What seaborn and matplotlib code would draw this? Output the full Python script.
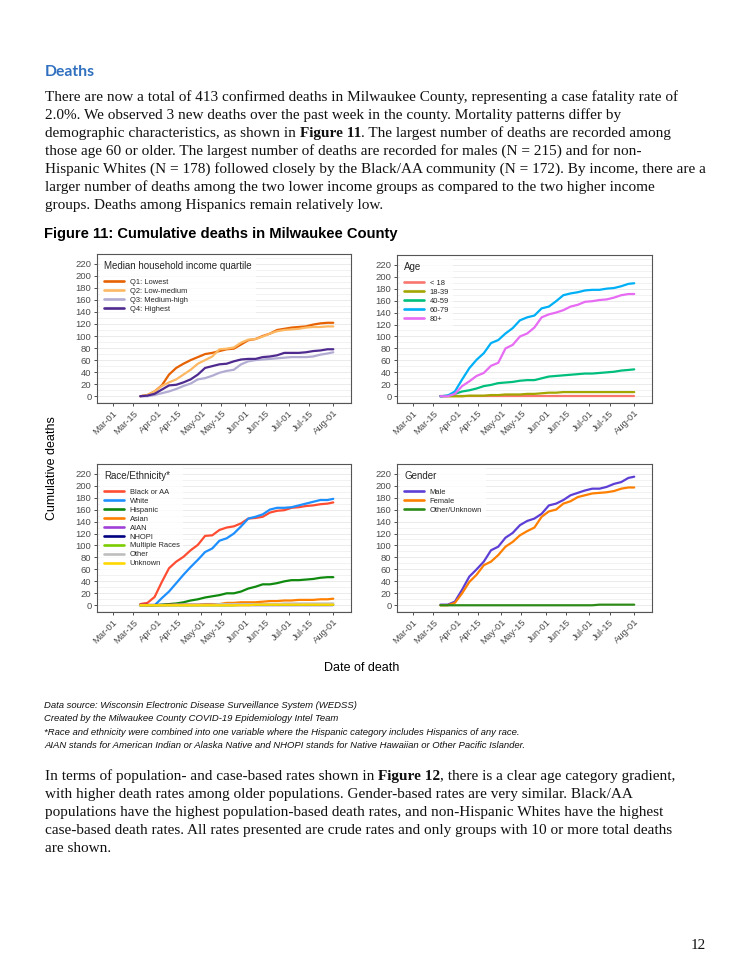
import numpy as np
import pandas as pd
import matplotlib
matplotlib.use("Agg")
import matplotlib.pyplot as plt
import seaborn as sns

# ---------------- data ----------------
dates = ["2020-03-20", "2020-03-25", "2020-03-30", "2020-04-04", "2020-04-09", "2020-04-14",
         "2020-04-19", "2020-04-24", "2020-04-29", "2020-05-04", "2020-05-09", "2020-05-14",
         "2020-05-19", "2020-05-24", "2020-05-29", "2020-06-03", "2020-06-08", "2020-06-13",
         "2020-06-18", "2020-06-23", "2020-06-28", "2020-07-03", "2020-07-08", "2020-07-13",
         "2020-07-18", "2020-07-23", "2020-07-28", "2020-08-01"]

income_groups = ["Q1: Lowest", "Q2: Low-medium", "Q3: Medium-high", "Q4: Highest"]
income_q1 = [0, 2, 8, 18, 36, 47, 54, 60, 65, 70, 72, 75, 78, 79, 86, 93, 95, 100, 104, 110, 112, 114, 115, 116, 119, 121, 122, 122]
income_q2 = [0, 2, 8, 17, 23, 28, 36, 44, 54, 60, 66, 78, 79, 81, 89, 94, 95, 99, 104, 108, 110, 111, 112, 114, 115, 115, 116, 116]
income_q3 = [0, 0, 2, 5, 8, 12, 17, 21, 28, 30, 34, 39, 42, 44, 53, 58, 60, 61, 62, 63, 64, 65, 65, 65, 66, 69, 71, 73]
income_q4 = [0, 1, 4, 11, 18, 19, 23, 28, 36, 47, 50, 53, 54, 58, 61, 62, 62, 65, 66, 68, 72, 72, 72, 73, 75, 76, 78, 78]
income_colors = ["#E66101", "#FDB863", "#B2ABD2", "#4F2A8F"]

age_groups = ["< 18", "18-39", "40-59", "60-79", "80+"]
age_lt18 = [0] * 28
age_18_39 = [0, 0, 0, 0, 1, 1, 1, 2, 2, 3, 3, 3, 4, 4, 5, 6, 6, 7, 7, 7, 7, 7, 7, 7, 7, 7, 7, 7]
age_40_59 = [0, 1, 4, 8, 10, 13, 17, 19, 22, 23, 24, 26, 27, 27, 30, 33, 34, 35, 36, 37, 38, 38, 39, 40, 41, 43, 44, 45]
age_60_79 = [0, 1, 8, 28, 47, 61, 72, 89, 94, 105, 114, 127, 132, 135, 147, 150, 159, 169, 172, 174, 177, 178, 178, 180, 181, 184, 188, 189]
age_80p = [0, 0, 4, 17, 25, 34, 39, 51, 56, 80, 86, 100, 105, 115, 132, 137, 140, 144, 150, 153, 158, 159, 161, 162, 165, 169, 171, 171]
age_colors = ["#F8766D", "#A3A500", "#00BF7D", "#00B0F6", "#E76BF3"]

race_groups = ["Black or AA", "White", "Hispanic", "Asian", "AIAN", "NHOPI", "Multiple Races", "Other", "Unknown"]
race_black = [2, 4, 14, 39, 62, 73, 81, 92, 101, 116, 117, 126, 130, 132, 137, 145, 146, 148, 155, 158, 159, 163, 164, 166, 167, 169, 170, 172]
race_white = [0, 0, 0, 12, 23, 37, 51, 64, 76, 89, 95, 108, 112, 120, 132, 145, 148, 152, 160, 163, 163, 164, 167, 170, 173, 176, 176, 178]
race_hisp = [0, 0, 0, 1, 2, 3, 5, 8, 10, 13, 15, 17, 20, 20, 23, 28, 31, 35, 35, 37, 40, 42, 42, 43, 44, 46, 47, 47]
race_asian = [0, 0, 0, 0, 1, 1, 1, 1, 1, 2, 2, 2, 4, 4, 5, 5, 5, 6, 7, 7, 8, 8, 9, 9, 9, 10, 10, 11]
race_aian = [0] * 28
race_nhopi = [0] * 28
race_multi = [0] * 14 + [1] * 14
race_other = [0, 0, 0, 0, 0, 1, 1, 1, 1, 1, 1, 2, 2, 2, 2, 2, 2, 2, 2, 2, 3, 3, 3, 3, 3, 3, 3, 3]
race_unknown = [0] * 16 + [1] * 12
race_colors = ["#FF4D33", "#1E8FFF", "#0F8A0F", "#FF8000", "#A040D8", "#000080", "#7CCD00", "#BEBEBE", "#FFD700"]

gender_groups = ["Male", "Female", "Other/Unknown"]
gender_male = [1, 1, 6, 26, 48, 60, 73, 92, 98, 113, 121, 134, 141, 145, 153, 167, 170, 176, 184, 188, 192, 195, 195, 198, 203, 206, 213, 215]
gender_female = [0, 0, 4, 20, 39, 51, 67, 73, 84, 98, 106, 117, 124, 130, 148, 157, 160, 170, 174, 181, 184, 187, 188, 189, 191, 195, 197, 197]
gender_other = [0] * 22 + [1] * 6
gender_colors = ["#5E3FD6", "#FF7F00", "#2E8B1A"]

x_ticks = ["2020-03-01", "2020-03-15", "2020-04-01", "2020-04-15", "2020-05-01", "2020-05-15",
           "2020-06-01", "2020-06-15", "2020-07-01", "2020-07-15", "2020-08-01"]
y_ticks = list(range(0, 221, 20))

para1 = [
    [("There are now a total of 413 confirmed deaths in Milwaukee County, representing a case fatality rate of", "normal")],
    [("2.0%. We observed 3 new deaths over the past week in the county. Mortality patterns differ by", "normal")],
    [("demographic characteristics, as shown in ", "normal"), ("Figure 11", "bold"),
     (". The largest number of deaths are recorded among", "normal")],
    [("those age 60 or older. The largest number of deaths are recorded for males (N = 215) and for non-", "normal")],
    [("Hispanic Whites (N = 178) followed closely by the Black/AA community (N = 172). By income, there are a", "normal")],
    [("larger number of deaths among the two lower income groups as compared to the two higher income", "normal")],
    [("groups. Deaths among Hispanics remain relatively low.", "normal")],
]
para2 = [
    [("In terms of population- and case-based rates shown in ", "normal"), ("Figure 12", "bold"),
     (", there is a clear age category gradient,", "normal")],
    [("with higher death rates among older populations. Gender-based rates are very similar. Black/AA", "normal")],
    [("populations have the highest population-based death rates, and non-Hispanic Whites have the highest", "normal")],
    [("case-based death rates. All rates presented are crude rates and only groups with 10 or more total deaths", "normal")],
    [("are shown.", "normal")],
]
notes = [
    "Data source: Wisconsin Electronic Disease Surveillance System (WEDSS)",
    "Created by the Milwaukee County COVID-19 Epidemiology Intel Team",
    "*Race and ethnicity were combined into one variable where the Hispanic category includes Hispanics of any race.",
    "AIAN stands for American Indian or Alaska Native and NHOPI stands for Native Hawaiian or Other Pacific Islander.",
]

# ---------------- figure ----------------
sns.set_theme(style="white")
plt.rcParams["font.family"] = ["Liberation Sans", "DejaVu Sans"]

W, H = 750, 971
fig = plt.figure(figsize=(W / 100, H / 100), dpi=100)
fig.patch.set_facecolor("white")
renderer = fig.canvas.get_renderer()


def fy(y):
    return 1 - y / H


def fit_size(text, target, **kw):
    t = fig.text(0, 0, text, fontsize=10, **kw)
    w = t.get_window_extent(renderer).width
    t.remove()
    return 10 * target / w


def draw_runs(x, y, parts, size, family, color="#111111"):
    cur = x
    for txt, wt in parts:
        t = fig.text(cur / W, fy(y), txt, fontsize=size, family=family, fontweight=wt,
                     ha="left", va="baseline", color=color)
        cur += t.get_window_extent(renderer).width


serif = "Liberation Serif"
body_size = fit_size(para1[4][0][0], 658, family=serif)

# heading
head_size = fit_size("Deaths", 50, family="Lato", fontweight="bold")
fig.text(45 / W, fy(76), "Deaths", fontsize=head_size, family="Lato", fontweight="bold",
         color="#3070BE", ha="left", va="baseline")

for i, line in enumerate(para1):
    draw_runs(45, 101 + 18 * i, line, body_size, serif)

title_txt = "Figure 11: Cumulative deaths in Milwaukee County"
title_size = fit_size(title_txt, 355, family="Liberation Sans", fontweight="bold")
fig.text(44 / W, fy(238), title_txt, fontsize=title_size, family="Liberation Sans",
         fontweight="bold", color="black", ha="left", va="baseline")

note_size = fit_size(notes[0], 314, family="Liberation Sans", fontstyle="italic")
for i, n in enumerate(notes):
    fig.text(44 / W, fy(708 + 13.4 * i), n, fontsize=note_size, family="Liberation Sans",
             fontstyle="italic", color="#111111", ha="left", va="baseline")

for i, line in enumerate(para2):
    draw_runs(45, 780 + 18 * i, line, body_size, serif)

fig.text(706 / W, fy(949), "12", fontsize=body_size, family=serif, ha="right", va="baseline",
         color="#111111")

# ---------------- panels ----------------
def panel_df(groups, series):
    rows = []
    for g, vals in zip(groups, series):
        for d, v in zip(dates, vals):
            rows.append({"date": pd.Timestamp(d), "deaths": v, "group": g})
    return pd.DataFrame(rows)


panels = [
    (97, 254, 351, 403, "Median household income quartile", income_groups,
     [income_q1, income_q2, income_q3, income_q4], income_colors),
    (397, 255, 652, 403, "Age", age_groups,
     [age_lt18, age_18_39, age_40_59, age_60_79, age_80p], age_colors),
    (97, 464, 351, 612, "Race/Ethnicity*", race_groups,
     [race_black, race_white, race_hisp, race_asian, race_aian, race_nhopi, race_multi,
      race_other, race_unknown], race_colors),
    (397, 464, 652, 612, "Gender", gender_groups,
     [gender_male, gender_female, gender_other], gender_colors),
]

tick_dates = [pd.Timestamp(d) for d in x_ticks]
tick_labels = [d.strftime("%b-%d") for d in tick_dates]

for (l, t, r, b, ltitle, groups, series, colors) in panels:
    ax = fig.add_axes([l / W, 1 - b / H, (r - l) / W, (b - t) / H])
    ax.set_facecolor("white")
    df = panel_df(groups, series)
    sns.lineplot(data=df, x="date", y="deaths", hue="group", hue_order=groups,
                 palette=dict(zip(groups, colors)), estimator=None, linewidth=1.6,
                 ax=ax, legend=True)
    ax.set_xlim(pd.Timestamp("2020-02-19"), pd.Timestamp("2020-08-13 07:00"))
    ax.set_ylim(-11.25, 236.25)
    for yv in range(-10, 236, 10):
        lw = 0.7 if yv % 20 == 0 else 0.45
        ax.axhline(yv, color="#EBEBEB", lw=lw, zorder=0)
    ax.set_yticks(y_ticks)
    ax.set_yticklabels([str(v) for v in y_ticks])
    ax.set_xticks(tick_dates)
    ax.set_xticklabels(tick_labels, rotation=45, ha="right", va="top", rotation_mode="anchor")
    ax.tick_params(axis="both", which="major", length=2.5, width=0.6, color="#333333",
                   labelsize=6.8, labelcolor="#4D4D4D", pad=1.5, direction="out",
                   left=True, bottom=True)
    ax.set_xlabel("")
    ax.set_ylabel("")
    for s in ax.spines.values():
        s.set_color("#555555")
        s.set_linewidth(0.8)
    handles, labels = ax.get_legend_handles_labels()
    leg = ax.legend(handles, labels, title=ltitle, loc="upper left", bbox_to_anchor=(0.0, 1.0),
                    fontsize=5.4, title_fontsize=7.0, frameon=True, fancybox=False,
                    borderpad=0.5, borderaxespad=0.45, labelspacing=0.22, handlelength=2.6,
                    handletextpad=0.8, alignment="left")
    leg._legend_box.sep = 5.5
    leg.get_frame().set_facecolor("white")
    leg.get_frame().set_edgecolor("white")
    leg.get_frame().set_linewidth(0)
    leg.set_zorder(1.5)
    for h in leg.get_lines():
        h.set_linewidth(1.9)

fig.text(52 / W, fy(468), "Cumulative deaths", rotation=90, fontsize=9.0, ha="center",
         va="center", color="black")
fig.text(362 / W, fy(668), "Date of death", fontsize=9.0, ha="center", va="center",
         color="black")

fig.savefig("out.png", dpi=100, facecolor="white")
